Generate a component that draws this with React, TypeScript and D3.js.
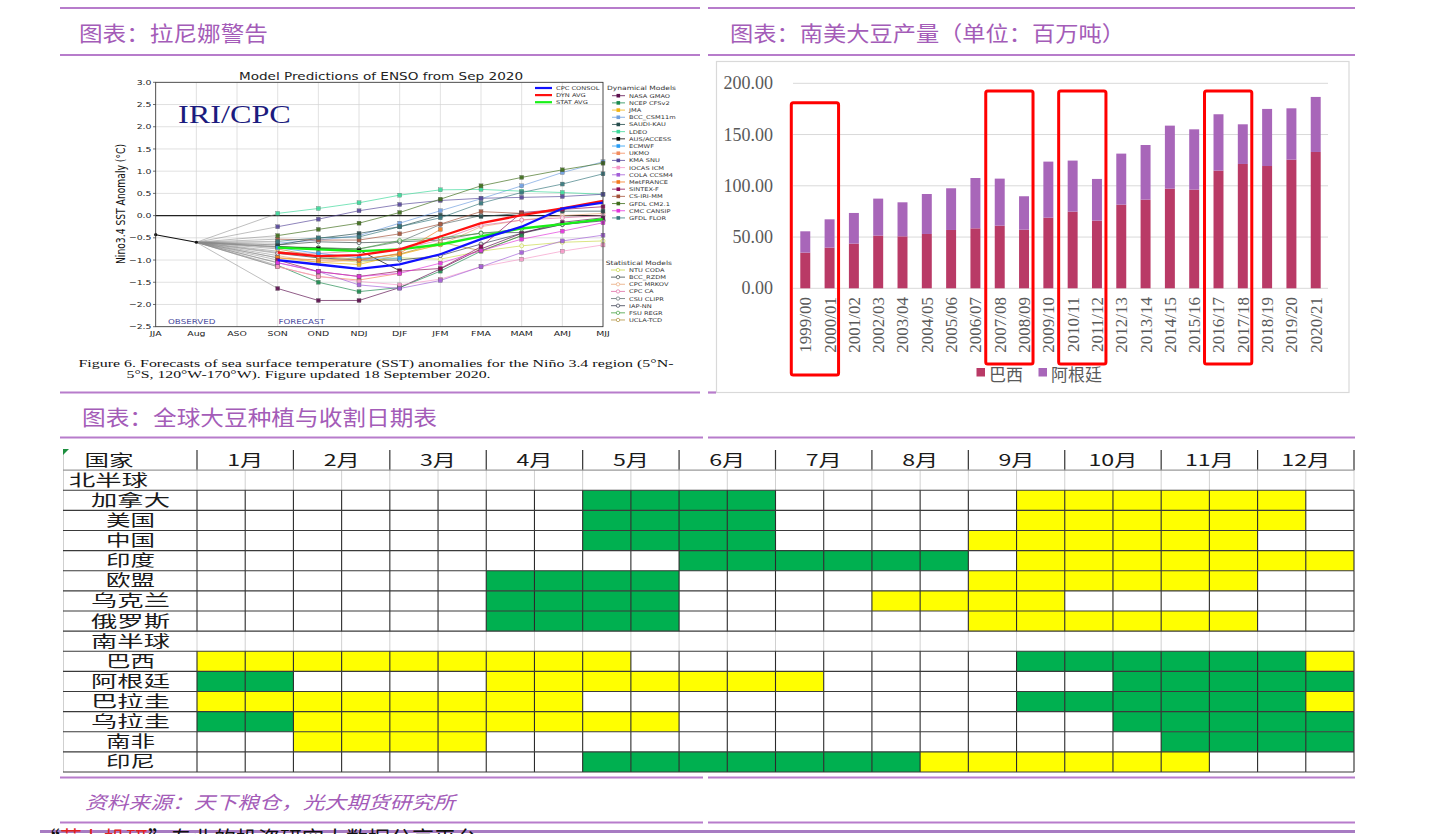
import React from "react";
import * as d3 from "d3";

// ---------- 拉尼娜警告 (ENSO plume) ----------
const seasons = ["JJA", "Aug", "ASO", "SON", "OND", "NDJ", "DJF", "JFM", "FMA", "MAM", "AMJ", "MJJ"];
const forecastSeasons = seasons.slice(3);
const observed = [-0.43, -0.6];
const ensoTicks = [-2.5, -2, -1.5, -1, -0.5, 0, 0.5, 1, 1.5, 2, 2.5, 3];

const dynNames = ["NASA GMAO", "NCEP CFSv2", "JMA", "BCC_CSM11m", "SAUDI-KAU", "LDEO", "AUS/ACCESS", "ECMWF", "UKMO", "KMA SNU", "IOCAS ICM", "COLA CCSM4", "MetFRANCE", "SINTEX-F", "CS-IRI-MM", "GFDL CM2.1", "CMC CANSIP", "GFDL FLOR"];
const dynColors = ["#5c0f4e", "#1d8a4f", "#f2b515", "#6f9fe0", "#264d4d", "#3dd99a", "#000000", "#2a9df4", "#f28c5e", "#57489a", "#f598c8", "#a35fd8", "#f47a1f", "#8c0b57", "#a3523a", "#3e6d1b", "#e236dc", "#38787e"];
const dynValues: (number | null)[][] = [
  [-1.64, -1.91, -1.91, -1.62, -1.2, -0.75, -0.4, -0.15, -0.05],
  [-1.12, -1.5, -1.71, -1.62, -1.25, -0.8, -0.45, null, null],
  [-0.95, -1.05, -1.1, -0.88, -0.65, null, null, null, null],
  [-0.62, -0.55, -0.45, -0.17, 0.11, 0.38, 0.67, 0.97, 1.21],
  [-0.66, -0.51, -0.4, -0.25, 0.01, -0.02, 0.05, 0.1, 0.1],
  [0.05, 0.16, 0.29, 0.46, 0.58, 0.59, 0.55, 0.52, 0.48],
  [-0.7, -0.74, -0.78, -1.24, null, null, null, null, null],
  [-0.72, -0.85, -0.95, -0.96, null, null, null, null, null],
  [-1.15, -1.37, -1.45, -1.3, null, null, null, null, null],
  [-0.25, -0.08, 0.11, 0.25, 0.34, 0.39, 0.41, 0.43, 0.48],
  [-1.15, -1.37, -1.48, -1.56, -1.43, -1.15, -0.98, -0.8, -0.66],
  [-1.06, -1.26, -1.56, -1.64, -1.46, -1.15, -0.83, -0.57, -0.44],
  [-0.95, -1.0, -1.0, -0.85, -0.31, null, null, null, null],
  [-1.0, -1.26, -1.37, -1.25, -1.19, -0.7, 0.07, 0.14, 0.2],
  [-0.53, -0.55, -0.55, -0.41, -0.19, 0.09, 0.05, null, null],
  [-0.45, -0.31, -0.17, 0.07, 0.37, 0.67, 0.86, 1.03, 1.18],
  [-1.06, -1.26, -1.37, -1.3, -1.07, -0.79, -0.53, -0.35, -0.16],
  [-0.58, -0.5, -0.48, -0.25, -0.05, 0.28, 0.52, 0.71, 0.94],
];

const statNames = ["NTU CODA", "BCC_RZDM", "CPC MRKOV", "CPC CA", "CSU CLIPR", "IAP-NN", "FSU REGR", "UCLA-TCD"];
const statColors = ["#c9d94a", "#3c4a4a", "#e9a97b", "#de6fa5", "#5f7070", "#3a3f50", "#44a040", "#b0913d"];
const statValues: (number | null)[][] = [
  [-0.8, -0.95, -1.05, -0.95, -0.98, -0.8, -0.68, -0.6, -0.57],
  [-0.66, -0.59, -0.61, -0.59, -0.55, -0.39, -0.38, -0.2, -0.1],
  [-0.9, -1.05, -1.0, -0.86, -0.66, -0.25, -0.1, 0.0, 0.05],
  [-0.83, -0.85, -0.8, -0.76, -0.55, -0.22, -0.1, -0.05, 0.0],
  [-0.7, -0.73, -0.75, -0.59, -0.2, 0.0, null, null, null],
  [-0.85, -0.95, -1.0, -1.0, -0.9, -0.64, -0.4, -0.2, -0.12],
  [-0.7, -0.72, -0.75, -0.56, -0.5, -0.4, -0.3, null, null],
  [-0.75, -0.92, -0.98, -0.87, -0.6, -0.79, -0.45, null, null],
];

const cpcConsol = [-1.0, -1.1, -1.2, -1.1, -0.87, -0.53, -0.25, 0.16, 0.29];
const dynAvg = [-0.83, -0.91, -0.89, -0.76, -0.47, -0.17, 0.01, 0.16, 0.33];
const statAvg = [-0.72, -0.76, -0.8, -0.76, -0.65, -0.47, -0.29, -0.19, -0.08];

// ---------- 南美大豆产量 ----------
const cropYears = ["1999/00", "2000/01", "2001/02", "2002/03", "2003/04", "2004/05", "2005/06", "2006/07", "2007/08", "2008/09", "2009/10", "2010/11", "2011/12", "2012/13", "2013/14", "2014/15", "2015/16", "2016/17", "2017/18", "2018/19", "2019/20", "2020/21"];
const brazil = [34.8, 39.7, 43.6, 51.4, 50.7, 53.0, 56.9, 58.5, 61.1, 57.2, 68.9, 74.8, 66.0, 81.6, 86.5, 97.2, 96.3, 114.8, 121.3, 119.3, 125.5, 133.0];
const argentina = [20.8, 27.6, 29.9, 36.1, 33.2, 39.0, 40.7, 49.1, 45.9, 32.6, 54.7, 49.8, 40.7, 49.8, 53.3, 61.5, 58.8, 55.0, 38.7, 55.7, 50.1, 53.7];
const barTicks = [0, 50, 100, 150, 200];
const highlightPairs = [["1999/00", "2000/01"], ["2007/08", "2008/09"], ["2010/11", "2011/12"], ["2016/17", "2017/18"]];

// ---------- 全球大豆种植与收割日期表 ----------
const months = ["1月", "2月", "3月", "4月", "5月", "6月", "7月", "8月", "9月", "10月", "11月", "12月"];
const northCountries = ["加拿大", "美国", "中国", "印度", "欧盟", "乌克兰", "俄罗斯"];
// G = 种植, Y = 收割, 每月上下半月两格
const northPlan = [
  "........GGGG.....YYYYYY.",
  "........GGGG.....YYYYYY.",
  "........GGGG....YYYYYY..",
  "..........GGGGGG.YYYYYYY",
  "......GGGG......YYYYYY..",
  "......GGGG....YYYY......",
  "......GGGG......YYYYYY..",
];
const southCountries = ["巴西", "阿根廷", "巴拉圭", "乌拉圭", "南非", "印尼"];
const southPlan = [
  "YYYYYYYYY........GGGGGGY",
  "GG....YYYYYYY......GGGGG",
  "YYYYYYYY.........GGGGGGY",
  "GGYYYYYYYY.........GGGGG",
  "..YYYY..............GGGG",
  "........GGGGGGGYYYYYY...",
];

const PURPLE = "#b77ccb";
const HEAD = "#a45cb8";
const CJK = "'Noto Sans CJK SC', 'Noto Sans', sans-serif";
const SERIF = "'Liberation Serif', 'DejaVu Serif', serif";
const SANS = "'DejaVu Sans', 'Noto Sans', sans-serif";

// text stretched horizontally (the pasted figure is wider than its original)
const SX = ({ x, y, sx = 1.28, rotate = 0, children, ...rest }: any) => (
  <text transform={`translate(${x},${y}) scale(${sx},1)${rotate ? ` rotate(${rotate})` : ""}`} {...rest}>
    {children}
  </text>
);

const fmt = (v: number) => (v < 0 ? "\u2212" : "") + Math.abs(v).toFixed(1);

const Enso = () => {
  const xE = d3.scalePoint<string>().domain(seasons).range([155.7, 603]);
  const yE = d3.scaleLinear().domain([-2.5, 3]).range([326.7, 82.3]);
  const line = d3
    .line<number | null>()
    .defined((v) => v != null)
    .x((_, i) => xE(forecastSeasons[i])!)
    .y((v) => yE(v as number));
  const obsLine = d3
    .line<number>()
    .x((_, i) => xE(seasons[i])!)
    .y((v) => yE(v));
  const connector = (vals: (number | null)[]) =>
    `M${xE("Aug")},${yE(observed[1])}L${xE("SON")},${yE(vals[0] as number)}`;
  const allModels = [...statValues, ...dynValues];

  return (
    <g>
      {/* grid */}
      {seasons.map((s) => (
        <line key={s} x1={xE(s)} x2={xE(s)} y1={yE(3)} y2={yE(-2.5)} stroke="#d4d4d4" strokeWidth={0.7} />
      ))}
      {ensoTicks.map((t) => (
        <line key={t} x1={155.7} x2={603} y1={yE(t)} y2={yE(t)} stroke="#d4d4d4" strokeWidth={0.7} />
      ))}
      <line x1={155.7} x2={603} y1={yE(0)} y2={yE(0)} stroke="#222" strokeWidth={1.3} />

      {/* thin links from last observation */}
      {allModels.map((v, i) => (
        <path key={i} d={connector(v)} stroke="#8a8a8a" strokeWidth={0.55} fill="none" />
      ))}

      {statValues.map((v, i) => (
        <g key={statNames[i]}>
          <path d={line(v)!} stroke={statColors[i]} strokeWidth={0.8} fill="none" opacity={0.85} />
          {v.map((d, j) =>
            d == null ? null : (
              <circle key={j} cx={xE(forecastSeasons[j])} cy={yE(d)} r={2} fill="#fff" fillOpacity={0.6} stroke={statColors[i]} strokeWidth={0.7} />
            )
          )}
        </g>
      ))}
      {dynValues.map((v, i) => (
        <g key={dynNames[i]}>
          <path d={line(v)!} stroke={dynColors[i]} strokeWidth={0.8} fill="none" opacity={0.85} />
          {v.map((d, j) =>
            d == null ? null : (
              <rect key={j} x={xE(forecastSeasons[j])! - 2} y={yE(d) - 2} width={4} height={4} fill={dynColors[i]} stroke="#555" strokeWidth={0.3} opacity={0.9} />
            )
          )}
        </g>
      ))}

      <path d={line(statAvg)!} stroke="#18f018" strokeWidth={2.3} fill="none" />
      <path d={line(dynAvg)!} stroke="#ff1010" strokeWidth={2.3} fill="none" />
      <path d={line(cpcConsol)!} stroke="#1010ff" strokeWidth={2.3} fill="none" />

      <path d={obsLine(observed)!} stroke="#111" strokeWidth={1.1} fill="none" />
      {observed.map((v, i) => (
        <circle key={i} cx={xE(seasons[i])} cy={yE(v)} r={1.6} fill="#111" />
      ))}

      {/* frame and axes */}
      <rect x={155.7} y={yE(3)} width={603 - 155.7} height={yE(-2.5) - yE(3)} fill="none" stroke="#333" strokeWidth={0.8} />
      {ensoTicks.map((t) => (
        <g key={t}>
          <line x1={153} x2={155.7} y1={yE(t)} y2={yE(t)} stroke="#333" strokeWidth={0.7} />
          <SX x={151.5} y={yE(t) + 2.6} fontSize={7.3} fontFamily={SANS} textAnchor="end" fill="#222">
            {fmt(t)}
          </SX>
        </g>
      ))}
      {seasons.map((s) => (
        <SX key={s} x={xE(s)} y={336} fontSize={7.3} fontFamily={SANS} textAnchor="middle" fill="#222">
          {s}
        </SX>
      ))}
      <SX x={125} y={204} sx={1.36} rotate={-90} fontSize={9.2} fontFamily={SANS} textAnchor="middle" fill="#111">
        Nino3.4 SST Anomaly (°C)
      </SX>
      <SX x={381} y={79.5} sx={1.32} fontSize={10.3} fontFamily={SANS} textAnchor="middle" fill="#222">
        Model Predictions of ENSO from Sep 2020
      </SX>
      <SX x={178} y={123.3} sx={1.29} fontSize={25} fontFamily={SERIF} fill="#1b1b7e">
        IRI/CPC
      </SX>
      <SX x={168} y={323.5} fontSize={6.8} fontFamily={SANS} fill="#4a4a9e">
        OBSERVED
      </SX>
      <SX x={278.5} y={323.5} fontSize={6.8} fontFamily={SANS} fill="#4a4a9e">
        FORECAST
      </SX>

      {/* averages legend */}
      {[
        ["CPC CONSOL", "#1010ff"],
        ["DYN AVG", "#ff1010"],
        ["STAT AVG", "#18f018"],
      ].map(([n, c], i) => (
        <g key={n}>
          <line x1={535} x2={552} y1={88 + i * 7.1} y2={88 + i * 7.1} stroke={c} strokeWidth={2.2} />
          <SX x={556} y={90 + i * 7.1} fontSize={5.2} fontFamily={SANS} fill="#333">
            {n}
          </SX>
        </g>
      ))}

      {/* model legends */}
      <SX x={607} y={90.3} fontSize={5.9} fontFamily={SANS} fill="#333">
        Dynamical Models
      </SX>
      {dynNames.map((n, i) => {
        const y = 95.7 + i * 7.19;
        return (
          <g key={n}>
            <line x1={612} x2={625} y1={y} y2={y} stroke={dynColors[i]} strokeWidth={0.8} />
            <rect x={616.5} y={y - 1.8} width={3.6} height={3.6} fill={dynColors[i]} />
            <SX x={629} y={y + 2} fontSize={5.2} fontFamily={SANS} fill="#333">
              {n}
            </SX>
          </g>
        );
      })}
      <SX x={605.7} y={264.8} fontSize={5.9} fontFamily={SANS} fill="#333">
        Statistical Models
      </SX>
      {statNames.map((n, i) => {
        const y = 270 + i * 7.14;
        return (
          <g key={n}>
            <line x1={611} x2={625} y1={y} y2={y} stroke={statColors[i]} strokeWidth={0.8} />
            <circle cx={618} cy={y} r={1.7} fill="#fff" stroke={statColors[i]} strokeWidth={0.7} />
            <SX x={629} y={y + 2} fontSize={5.2} fontFamily={SANS} fill="#333">
              {n}
            </SX>
          </g>
        );
      })}

      {/* caption */}
      <text x={78.5} y={367} fontSize={9.6} fontFamily={SERIF} fill="#111" textLength={595} lengthAdjust="spacingAndGlyphs">
        Figure 6. Forecasts of sea surface temperature (SST) anomalies for the Niño 3.4 region (5°N-
      </text>
      <text x={126.5} y={378} fontSize={9.6} fontFamily={SERIF} fill="#111" textLength={364} lengthAdjust="spacingAndGlyphs">
        5°S, 120°W-170°W). Figure updated 18 September 2020.
      </text>
    </g>
  );
};

const SoyBars = () => {
  const xB = d3.scaleBand<string>().domain(cropYears).range([793, 1328]).paddingInner(0.59).paddingOuter(0.3);
  const yB = d3.scaleLinear().domain([0, 200]).range([288.3, 83.3]);
  const bw = xB.bandwidth();
  const boxTop = [181, 192.5, 192.5, 192.5];
  const boxBottom = [375, 364, 364, 364];
  return (
    <g>
      <rect x={716.5} y={61.5} width={632.5} height={331} fill="none" stroke="#d9d9d9" strokeWidth={1.2} />
      {barTicks.map((t) => (
        <g key={t}>
          <line x1={793} x2={1328} y1={yB(t)} y2={yB(t)} stroke="#d9d9d9" strokeWidth={1} />
          <text x={773} y={yB(t) + 6} textAnchor="end" fontSize={18} fontFamily={SERIF} fill="#595959">
            {t.toFixed(2)}
          </text>
        </g>
      ))}
      {cropYears.map((c, i) => (
        <g key={c}>
          <rect x={xB(c)} y={yB(brazil[i])} width={bw} height={yB(0) - yB(brazil[i])} fill="#b93a66" />
          <rect x={xB(c)} y={yB(brazil[i] + argentina[i])} width={bw} height={yB(brazil[i]) - yB(brazil[i] + argentina[i])} fill="#a866b9" />
          <text transform={`translate(${xB(c)! + bw / 2},${297}) rotate(-90)`} dy="0.35em" textAnchor="end" fontSize={17} fontFamily={SERIF} fill="#595959">
            {c}
          </text>
        </g>
      ))}
      {highlightPairs.map(([a, b], i) => {
        const x0 = xB(a)! - 9;
        const x1 = xB(b)! + bw + 4;
        const y0 = yB(boxTop[i]);
        return <rect key={a} x={x0} y={y0} width={x1 - x0} height={boxBottom[i] - y0} rx={2} fill="none" stroke="#ff0000" strokeWidth={3} />;
      })}
      <rect x={976.5} y={368} width={8.5} height={8.5} fill="#b93a66" />
      <text x={989} y={381} fontSize={17} fontFamily={CJK} fill="#595959">巴西</text>
      <rect x={1038.5} y={368} width={8.5} height={8.5} fill="#a866b9" />
      <text x={1051} y={381} fontSize={17} fontFamily={CJK} fill="#595959">阿根廷</text>
    </g>
  );
};

const PlantingTable = () => {
  const rowKeys = ["header", "北半球", ...northCountries, "南半球", ...southCountries];
  const plans: Record<string, string> = {};
  northCountries.forEach((c, i) => (plans[c] = northPlan[i]));
  southCountries.forEach((c, i) => (plans[c] = southPlan[i]));
  const xT = d3.scaleBand<number>().domain(d3.range(24)).range([197, 1354]);
  const yT = d3.scaleBand<string>().domain(rowKeys).range([450, 772]);
  const rh = yT.bandwidth();
  const cw = xT.bandwidth();
  const fillOf: Record<string, string> = { G: "#00b050", Y: "#ffff00" };
  const isGroup = (k: string) => k === "北半球" || k === "南半球";
  const dataRows = rowKeys.filter((k) => plans[k]);
  const bounds = d3.range(25).map((i) => 197 + i * cw);

  return (
    <g>
      {dataRows.map((k) =>
        plans[k].split("").map((ch, j) =>
          fillOf[ch] ? <rect key={k + j} x={xT(j)} y={yT(k)} width={cw} height={rh} fill={fillOf[ch]} /> : null
        )
      )}
      {/* light grid in group rows */}
      {rowKeys.filter(isGroup).map((k) =>
        bounds.map((bx, j) => (
          <line key={k + j} x1={bx} x2={bx} y1={yT(k)} y2={yT(k)! + rh} stroke="#d0d0d0" strokeWidth={1} />
        ))
      )}
      <line x1={63.5} x2={63.5} y1={450} y2={772} stroke="#cfcfcf" strokeWidth={1} />
      {/* header dividers */}
      {[197, ...months.map((_, m) => 197 + (m + 1) * 2 * cw)].map((bx) => (
        <line key={bx} x1={bx} x2={bx} y1={450} y2={yT("北半球")} stroke="#333" strokeWidth={1.2} />
      ))}
      {/* dark grid in country rows */}
      {dataRows.map((k) =>
        bounds.map((bx, j) => (
          <line key={k + j} x1={bx} x2={bx} y1={yT(k)} y2={yT(k)! + rh} stroke="#2b2b2b" strokeWidth={1.1} />
        ))
      )}
      {rowKeys.slice(1).map((k) => (
        <line key={k} x1={63} x2={1354} y1={yT(k)} y2={yT(k)} stroke={k === "北半球" ? "#9a9a9a" : "#3a3a3a"} strokeWidth={1.1} />
      ))}
      <line x1={63} x2={1354} y1={772} y2={772} stroke="#3a3a3a" strokeWidth={1.1} />
      <path d="M63,449L69,449L63,455Z" fill="#1d8f3f" />

      <text x={109} y={yT("header")! + rh / 2 + 5.5} textAnchor="middle" fontSize={15.5} fontFamily={CJK} fill="#1a1a1a" textLength={49} lengthAdjust="spacingAndGlyphs">
        国家
      </text>
      {months.map((m, i) => (
        <text key={m} x={197 + (i * 2 + 1) * cw} y={yT("header")! + rh / 2 + 5.5} textAnchor="middle" fontSize={15.5} fontFamily={CJK} fill="#1a1a1a" textLength={m.length > 2 ? 49 : 36} lengthAdjust="spacingAndGlyphs">
          {m}
        </text>
      ))}
      {rowKeys.slice(1).map((k) => {
        const left = k === "北半球";
        return (
          <text key={k} x={left ? 69 : 130.5} y={yT(k)! + rh / 2 + 5.5} textAnchor={left ? "start" : "middle"} fontSize={15.5} fontFamily={CJK} fill="#1a1a1a" textLength={k.length === 3 ? 79 : 49} lengthAdjust="spacingAndGlyphs">
            {k}
          </text>
        );
      })}
    </g>
  );
};

const Rule = ({ y, segs }: { y: number; segs: [number, number][] }) => (
  <g>
    {segs.map(([a, b]) => (
      <line key={a} x1={a} x2={b} y1={y} y2={y} stroke={PURPLE} strokeWidth={2.2} />
    ))}
  </g>
);

export default function App() {
  const full: [number, number][] = [[60, 700], [708, 1355]];
  const wide: [number, number][] = [[60, 703], [708, 1355]];
  return (
    <>
      <style>{"body{margin:0}"}</style>
      <svg width={1440} height={834} style={{ display: "block", background: "#fff" }}>
        <Rule y={8} segs={full} />
        <Rule y={55} segs={full} />
        <text x={79} y={41} fontSize={21} fontFamily={CJK} fill={HEAD} textLength={189} lengthAdjust="spacingAndGlyphs">
          图表：拉尼娜警告
        </text>
        <text x={730} y={41} fontSize={21} fontFamily={CJK} fill={HEAD} textLength={395} lengthAdjust="spacingAndGlyphs">
          图表：南美大豆产量（单位：百万吨）
        </text>

        <Enso />
        <SoyBars />

        <Rule y={392.5} segs={[[60, 700], [708, 716]]} />
        <text x={82} y={424.5} fontSize={21} fontFamily={CJK} fill={HEAD} textLength={355} lengthAdjust="spacingAndGlyphs">
          图表：全球大豆种植与收割日期表
        </text>
        <Rule y={437.5} segs={wide} />

        <PlantingTable />

        <Rule y={777.5} segs={wide} />
        <text x={85} y={809} fontSize={18} fontStyle="italic" fontFamily={CJK} fill={HEAD} textLength={370} lengthAdjust="spacingAndGlyphs">
          资料来源：天下粮仓，光大期货研究所
        </text>
        <Rule y={822.5} segs={wide} />

        <line x1={40} x2={1355} y1={831.5} y2={831.5} stroke="#a77bc2" strokeWidth={3} />
        <text x={38} y={847} fontSize={22} fontFamily={CJK} fill="#111">
          “<tspan fill="#e02020">萝卜投研</tspan>”专业的投资研究大数据分享平台
        </text>
      </svg>
    </>
  );
}
